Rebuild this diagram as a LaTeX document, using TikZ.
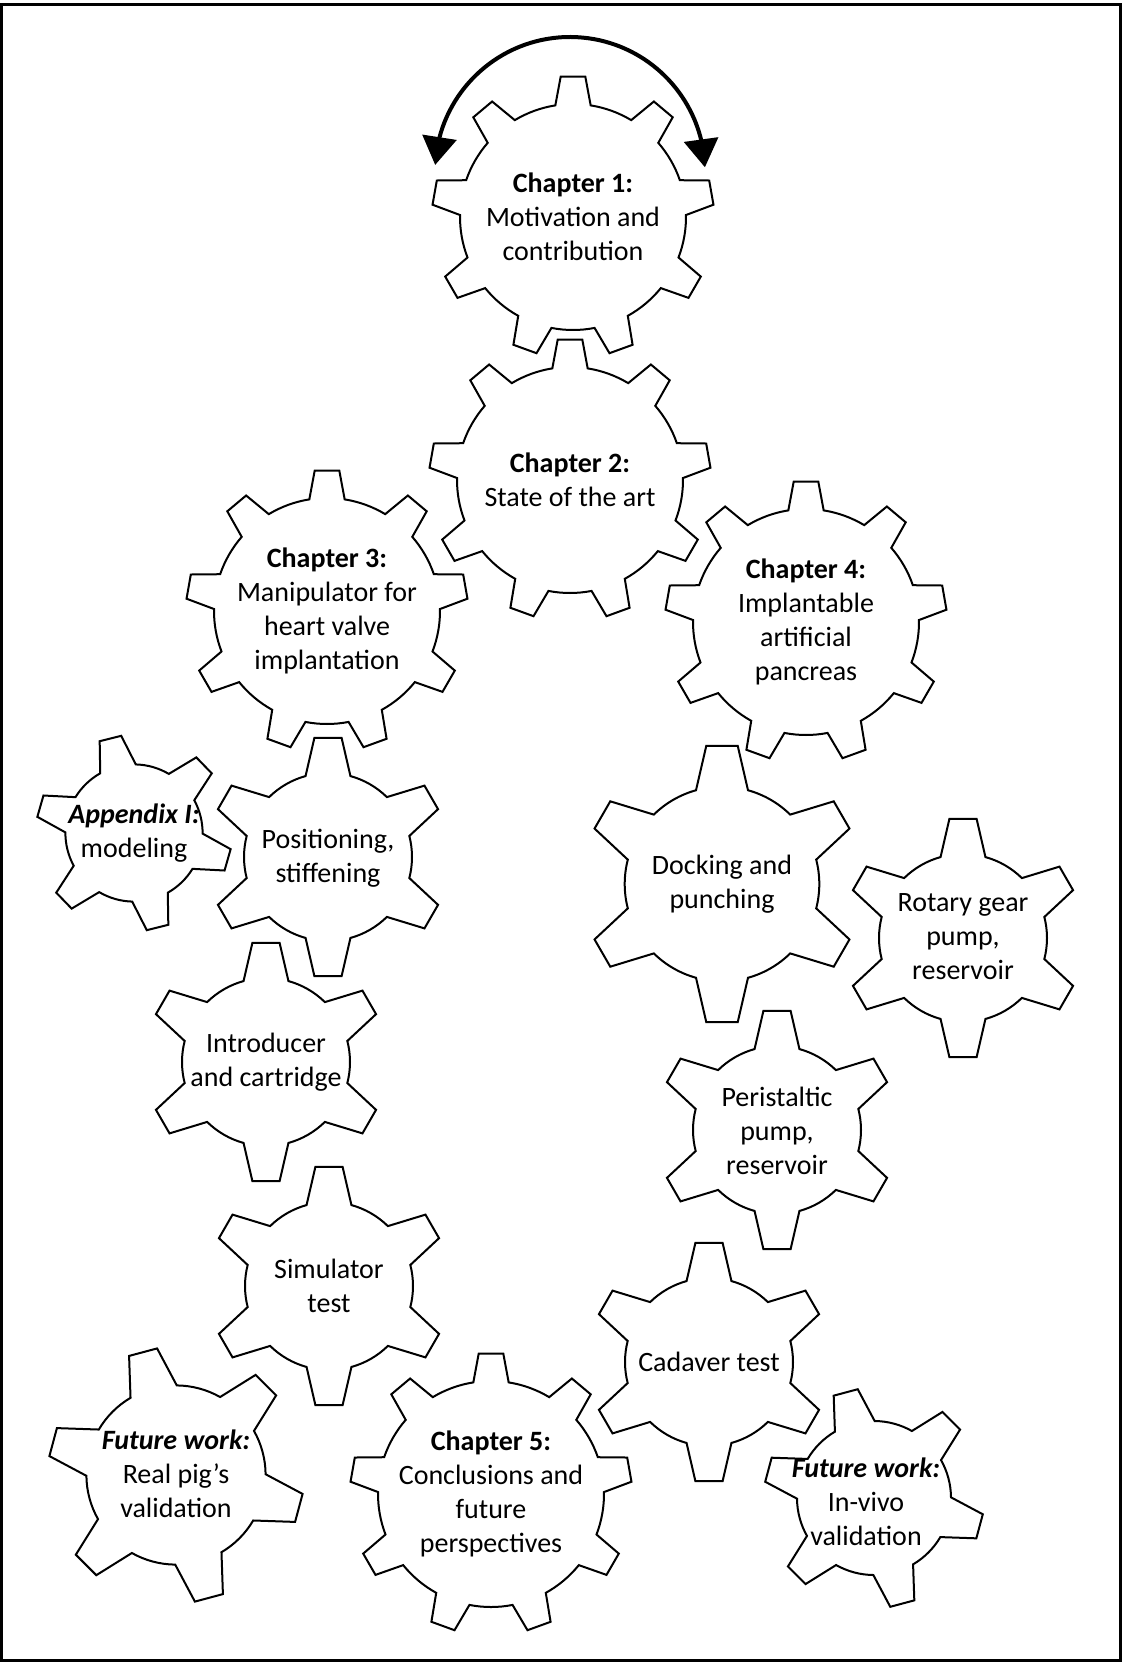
\documentclass[tikz,border=0pt]{standalone}
\usepackage{fontspec}
\setmainfont{Carlito}
\usetikzlibrary{arrows.meta,bending}
\tikzset{
  gearline/.style={draw=black, line width=1pt, line join=miter},
  gtext/.style={align=center, inner sep=0pt, font=\fontsize{14}{17}\selectfont},
  bigarrow/.style={line width=2pt, {Triangle[length=14pt,width=17pt]}-{Triangle[length=14pt,width=17pt]}},
  frameline/.style={draw=black, line width=1.5pt}
}
% #1 cx, #2 cy, #3 teeth, #4 phase, #5 outer R, #6 root r, #7 base half-angle, #8 tip half-angle
\newcommand{\gearshape}[8]{%
  \begin{scope}[shift={(#1,#2)}, yscale=-1]
    \pgfmathsetmacro{\gearstepang}{360/#3}
    \draw[gearline] ({#4-#7}:#6)
      \foreach \k [evaluate=\k as \ga using {#4+(\k-1)*\gearstepang}] in {1,...,#3} {
        -- ({\ga-#8}:#5) -- ({\ga+#8}:#5) -- ({\ga+#7}:#6)
        arc[start angle={\ga+#7}, end angle={\ga+\gearstepang-#7}, radius=#6]
      } -- cycle;
  \end{scope}}
\newcommand{\biggear}[2]{\gearshape{#1}{#2}{9}{90}{141}{113}{9}{5}}
\newcommand{\smallgear}[4]{\gearshape{#1}{#2}{6}{#3}{#4}{{0.7*#4}}{15.5}{6.5}}
\begin{document}
\begin{tikzpicture}[x=0.5pt,y=-0.5pt]
\useasboundingbox (0,0) rectangle (1124,1664);
\draw[frameline] (1.5,4.5) rectangle (1120.5,1660);

% big gears
\biggear{573}{217}
\biggear{570}{480}
\biggear{327}{611}
\biggear{806}{622}
\biggear{491}{1494}

% small gears
\smallgear{134}{833}{104}{98}
\smallgear{328}{857}{90}{120}
\smallgear{722}{884}{90}{139}
\smallgear{963}{938}{90}{120}
\smallgear{266}{1062}{90}{120}
\smallgear{777}{1130}{90}{120}
\smallgear{329}{1286}{90}{120}
\smallgear{709}{1362}{90}{120}
\smallgear{176}{1475}{105}{128}
\smallgear{874}{1498}{105}{110}

% rotation arrow over chapter 1
\coordinate (arcctr) at (570,172);
\begin{scope}[shift={(arcctr)}, yscale=-1]
  \draw[bigarrow] (177:135) arc[start angle=177, end angle=2, radius=135];
\end{scope}

% texts
\node[gtext] (ch1) at (573,217) {\textbf{Chapter 1:}\\Motivation and\\contribution};
\node[gtext] (ch2) at (570,480) {\textbf{Chapter 2:}\\State of the art};
\node[gtext] (ch3) at (327,611) {\textbf{Chapter 3:}\\Manipulator for\\heart valve\\implantation};
\node[gtext] (ch4) at (806,622) {\textbf{Chapter 4:}\\Implantable\\artificial\\pancreas};
\node[gtext] (ch5) at (491,1494) {\textbf{Chapter 5:}\\Conclusions and\\future\\perspectives};
\node[gtext] (app) at (134,833) {\textbf{\textit{Appendix I:}}\\modeling};
\node[gtext] (pos) at (328,858) {Positioning,\\stiffening};
\node[gtext] (dock) at (722,884) {Docking and\\punching};
\node[gtext] (rot) at (963,937) {Rotary gear\\pump,\\reservoir};
\node[gtext] (intro) at (266,1062) {Introducer\\and cartridge};
\node[gtext] (peri) at (777,1131) {Peristaltic\\pump,\\reservoir};
\node[gtext] (sim) at (329,1286) {Simulator\\test};
\node[gtext] (cad) at (709,1362) {Cadaver test};
\node[gtext] (pig) at (176,1474) {\textbf{\textit{Future work:}}\\Real pig’s\\validation};
\node[gtext] (vivo) at (866,1502) {\textbf{\textit{Future work:}}\\In-vivo\\validation};
\end{tikzpicture}
\end{document}
